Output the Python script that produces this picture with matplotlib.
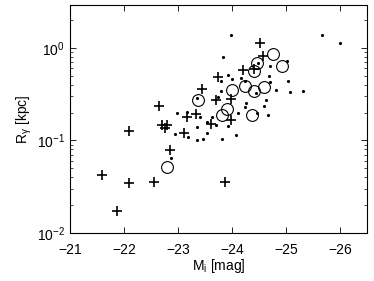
import numpy as np
import matplotlib
matplotlib.use("Agg")
import matplotlib.pyplot as plt
from matplotlib.ticker import LogLocator, FixedLocator, NullFormatter

plt.rcParams['font.family'] = ['Liberation Sans', 'DejaVu Sans']
plt.rcParams['mathtext.fontset'] = 'custom'
plt.rcParams['mathtext.rm'] = 'Liberation Sans'
plt.rcParams['mathtext.it'] = 'Liberation Sans:italic'

# plus markers
plus_M = [-21.59, -22.10, -22.09, -22.56, -21.88, -22.85, -23.87, -23.75, -23.44,
          -23.70, -22.65, -23.17, -23.33, -22.70, -22.79, -22.76, -23.11, -23.62,
          -24.52, -24.58, -24.20, -24.41, -23.99, -23.98]
plus_R = [0.0424, 0.127, 0.035, 0.0356, 0.0173, 0.079, 0.0359, 0.485, 0.360,
          0.275, 0.233, 0.177, 0.191, 0.148, 0.148, 0.137, 0.121, 0.149,
          1.13, 0.825, 0.575, 0.589, 0.280, 0.165]

# open circles
circ_M = [-22.79, -23.38, -24.76, -24.47, -24.40, -24.93, -24.24, -24.01, -24.40,
          -24.60, -23.90, -23.81, -24.37]
circ_R = [0.0511, 0.270, 0.868, 0.688, 0.568, 0.632, 0.384, 0.349, 0.340,
          0.381, 0.219, 0.189, 0.190]

# small dots
dot_M = [-23.98, -25.67, -26.01, -23.84, -24.49, -25.02, -24.70, -23.93, -24.00,
         -23.80, -24.16, -24.68, -24.25, -24.70, -25.04, -24.81, -25.07, -25.31,
         -24.45, -23.80, -23.75, -23.36, -24.63, -24.27, -24.24, -24.60, -24.12,
         -24.67, -22.98, -23.16, -23.41, -23.64, -23.54, -23.70, -23.93, -22.94,
         -23.19, -23.35, -23.53, -23.35, -23.46, -23.81, -24.07, -22.88, -24.46]
dot_R = [1.37, 1.39, 1.13, 0.805, 0.688, 0.716, 0.643, 0.507, 0.459,
         0.439, 0.473, 0.501, 0.435, 0.429, 0.435, 0.351, 0.336, 0.345,
         0.324, 0.345, 0.297, 0.287, 0.275, 0.254, 0.231, 0.233, 0.198,
         0.187, 0.198, 0.204, 0.178, 0.178, 0.157, 0.145, 0.1415, 0.116,
         0.110, 0.139, 0.121, 0.100, 0.104, 0.1036, 0.113, 0.064, 0.200]

fig = plt.figure(figsize=(3.74, 2.81), dpi=100)
ax = fig.add_axes([0.187, 0.171, 0.794, 0.811])

ax.plot(dot_M, dot_R, 'k.', ms=4.5, mew=0)
ax.plot(circ_M, circ_R, 'o', ms=8.5, mfc='none', mec='k', mew=0.8)
ax.plot(plus_M, plus_R, 'k+', ms=7.5, mew=1.2)

ax.set_yscale('log')
ax.set_xlim(-21, -26.5)
ax.set_ylim(0.01, 2.9)
ax.xaxis.set_major_locator(FixedLocator([-21, -22, -23, -24, -25, -26]))
ax.set_xticklabels(['\u221221', '\u221222', '\u221223', '\u221224', '\u221225', '\u221226'])
ax.yaxis.set_major_locator(LogLocator(base=10, numticks=10))
ax.yaxis.set_minor_locator(LogLocator(base=10, subs=np.arange(2, 10), numticks=10))
ax.yaxis.set_minor_formatter(NullFormatter())

ax.tick_params(which='both', direction='in', top=True, right=True, labelsize=10)
ax.tick_params(which='major', length=4, width=0.6)
ax.tick_params(which='minor', length=2, width=0.5)
ax.tick_params(axis='x', pad=7)
for s in ax.spines.values():
    s.set_linewidth(0.8)

ax.set_xlabel('M$_{\\mathrm{i}}$ [mag]', fontsize=10, labelpad=0)
ax.set_ylabel('R$_{\\mathrm{\u03b3}}$ [kpc]', fontsize=10, labelpad=2)

fig.savefig('out.png', dpi=100)
